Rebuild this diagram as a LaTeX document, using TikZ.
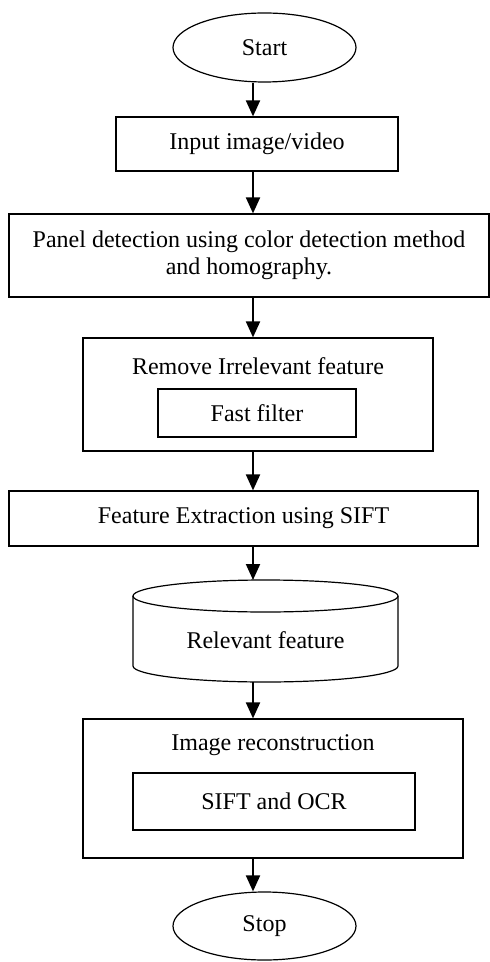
\documentclass[tikz,border=0pt]{standalone}
\usepackage{fontspec}
\setmainfont{Liberation Serif}
\usetikzlibrary{shapes.geometric, arrows.meta}

\begin{document}
\begin{tikzpicture}[x=0.5pt,y=-0.5pt,font=\fontsize{12}{13.5}\selectfont,
		box/.style={draw,line width=0.6pt,rectangle,inner sep=0pt},
		term/.style={draw,line width=0.6pt,ellipse,inner sep=0pt},
		arr/.style={line width=1pt,-{Triangle[width=7pt,length=8pt]}}]
	\useasboundingbox (0,0) rectangle (490,962);
	\coordinate (ax) at (253,0);
	\node[term,minimum width=91.5pt,minimum height=34.5pt] (start) at (264.5,47.5) {Start};
	\node[box,minimum width=141pt,minimum height=27pt] (input) at (257,144) {Input image/video};
	\node[box,minimum width=240pt,minimum height=41.5pt,align=center] (panel) at (249,255.5)
		{Panel detection using color detection method\\and homography.};
	\node[box,minimum width=175pt,minimum height=56.5pt] (remove) at (258,394.5) {};
	\node (removet) at (258,366) {Remove Irrelevant feature};
	\node[box,minimum width=99pt,minimum height=24pt] (fast) at (257,413) {Fast filter};
	\node[box,minimum width=234.5pt,minimum height=27.5pt] (extract) at (243.5,518.5) {Feature Extraction using SIFT};
	% storage
	\coordinate (cyltop) at (253,580);
	\coordinate (cylbot) at (253,682);
	\draw[line width=0.6pt] (133,596) -- (133,666) arc[start angle=180,end angle=360,x radius=66.25pt,y radius=8pt]
		-- (398,596);
	\draw[line width=0.6pt] (265.5,596) ellipse[x radius=66.25pt,y radius=8pt];
	\node (relevant) at (265.5,640) {Relevant feature};
	\node[box,minimum width=190pt,minimum height=69.5pt] (recon) at (273,788.5) {};
	\node (recont) at (273,745) {Image reconstruction};
	\node[box,minimum width=141pt,minimum height=28.5pt] (sift) at (274,801.5) {SIFT and OCR};
	\node[term,minimum width=91.5pt,minimum height=34pt] (stop) at (264.5,926) {Stop};
	\path[arr] (start.south -| ax) edge (input.north -| ax)
		(input.south -| ax) edge (panel.north -| ax)
		(panel.south -| ax) edge (remove.north -| ax)
		(remove.south -| ax) edge (extract.north -| ax)
		(extract.south -| ax) edge (cyltop)
		(cylbot) edge (recon.north -| ax)
		(recon.south -| ax) edge (stop.north -| ax);
\end{tikzpicture}
\end{document}
